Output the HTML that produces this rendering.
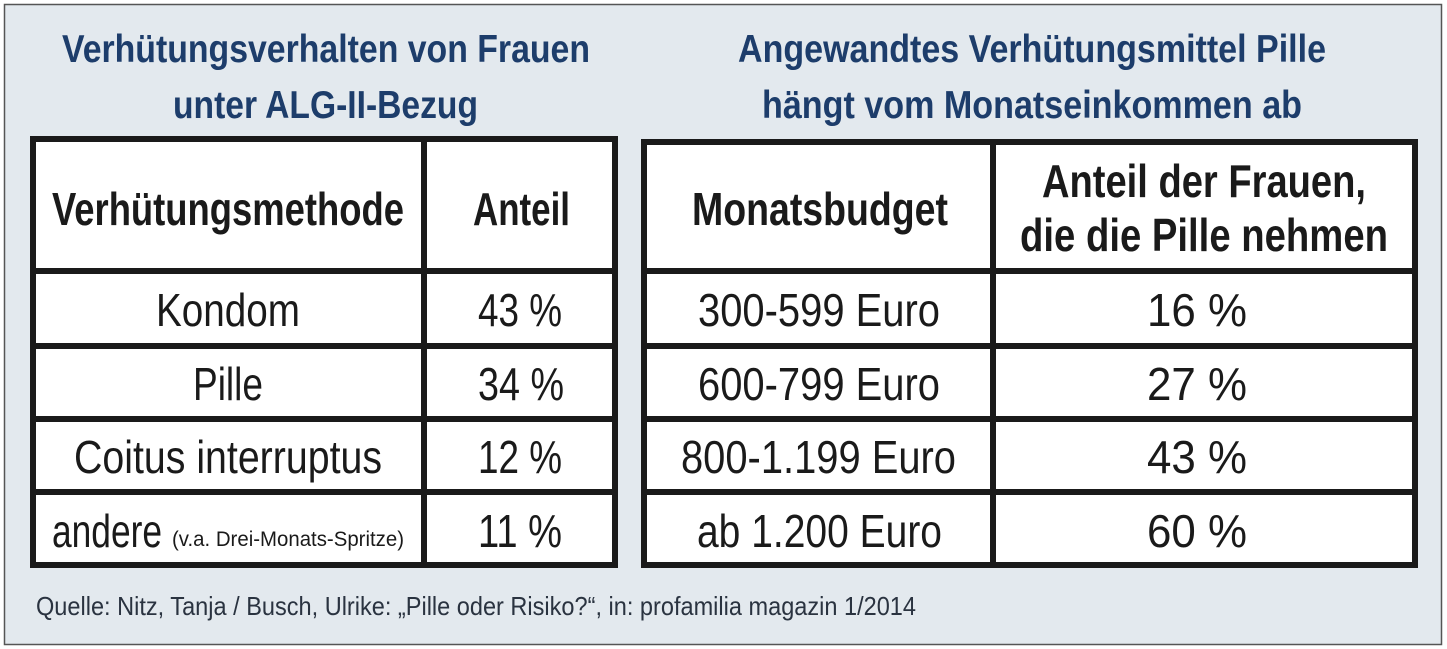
<!DOCTYPE html>
<html><head><meta charset="utf-8"><style>html,body{margin:0;padding:0;background:#fff}svg{display:block}</style></head><body>
<svg width="1447" height="649" viewBox="0 0 1447 649" xmlns="http://www.w3.org/2000/svg" font-family="Liberation Sans, sans-serif">
<rect x="0" y="0" width="1447" height="649" fill="#fff"/>
<rect x="4.5" y="4.5" width="1437" height="640" fill="#e3e9ee" stroke="#555" stroke-width="1.5"/>
<g fill="#1d3d6b" font-weight="bold" font-size="39">
<text x="62" y="62" textLength="528" lengthAdjust="spacingAndGlyphs">Verhütungsverhalten von Frauen</text>
<text x="173" y="118" textLength="305" lengthAdjust="spacingAndGlyphs">unter ALG-II-Bezug</text>
<text x="738" y="62" textLength="588" lengthAdjust="spacingAndGlyphs">Angewandtes Verhütungsmittel Pille</text>
<text x="762" y="118" textLength="540" lengthAdjust="spacingAndGlyphs">hängt vom Monatseinkommen ab</text>
</g>
<g fill="#fff" stroke="#1a1a1a" stroke-width="6">
<rect x="33" y="139" width="582" height="426"/>
<rect x="644" y="142" width="771" height="423"/>
</g>
<g stroke="#1a1a1a" stroke-width="6">
<line x1="424" y1="139" x2="424" y2="565"/>
<line x1="30" y1="271" x2="618" y2="271"/>
<line x1="30" y1="346" x2="618" y2="346"/>
<line x1="30" y1="419" x2="618" y2="419"/>
<line x1="30" y1="492" x2="618" y2="492"/>
<line x1="993" y1="142" x2="993" y2="565"/>
<line x1="641" y1="271" x2="1418" y2="271"/>
<line x1="641" y1="346" x2="1418" y2="346"/>
<line x1="641" y1="419" x2="1418" y2="419"/>
<line x1="641" y1="492" x2="1418" y2="492"/>
</g>
<g fill="#1a1a1a" font-weight="bold" font-size="46">
<text x="52" y="225" textLength="352" lengthAdjust="spacingAndGlyphs">Verhütungsmethode</text>
<text x="473" y="225" textLength="97" lengthAdjust="spacingAndGlyphs">Anteil</text>
<text x="692" y="225" textLength="256" lengthAdjust="spacingAndGlyphs">Monatsbudget</text>
<text x="1042" y="197" textLength="324" lengthAdjust="spacingAndGlyphs">Anteil der Frauen,</text>
<text x="1020" y="251" textLength="368" lengthAdjust="spacingAndGlyphs">die die Pille nehmen</text>
</g>
<g fill="#1a1a1a" font-size="46">
<text x="156" y="326" textLength="144" lengthAdjust="spacingAndGlyphs">Kondom</text>
<text x="478" y="326" textLength="84" lengthAdjust="spacingAndGlyphs">43 %</text>
<text x="193" y="400" textLength="70" lengthAdjust="spacingAndGlyphs">Pille</text>
<text x="478" y="400" textLength="86" lengthAdjust="spacingAndGlyphs">34 %</text>
<text x="74" y="473" textLength="308" lengthAdjust="spacingAndGlyphs">Coitus interruptus</text>
<text x="478" y="473" textLength="84" lengthAdjust="spacingAndGlyphs">12 %</text>
<text x="52" y="547" textLength="110" lengthAdjust="spacingAndGlyphs">andere</text>
<text x="478" y="547" textLength="84" lengthAdjust="spacingAndGlyphs">11 %</text>
<text x="698" y="326" textLength="242" lengthAdjust="spacingAndGlyphs">300-599 Euro</text>
<text x="1147" y="326" textLength="100" lengthAdjust="spacingAndGlyphs">16 %</text>
<text x="698" y="400" textLength="242" lengthAdjust="spacingAndGlyphs">600-799 Euro</text>
<text x="1147" y="400" textLength="100" lengthAdjust="spacingAndGlyphs">27 %</text>
<text x="681" y="473" textLength="275" lengthAdjust="spacingAndGlyphs">800-1.199 Euro</text>
<text x="1147" y="473" textLength="100" lengthAdjust="spacingAndGlyphs">43 %</text>
<text x="697" y="547" textLength="245" lengthAdjust="spacingAndGlyphs">ab 1.200 Euro</text>
<text x="1147" y="547" textLength="100" lengthAdjust="spacingAndGlyphs">60 %</text>
</g>
<text x="172" y="546" font-size="21" fill="#1a1a1a" textLength="232" lengthAdjust="spacingAndGlyphs">(v.a. Drei-Monats-Spritze)</text>
<text x="36" y="615" font-size="26" fill="#2a3340" textLength="880" lengthAdjust="spacingAndGlyphs">Quelle: Nitz, Tanja / Busch, Ulrike: „Pille oder Risiko?“, in: profamilia magazin 1/2014</text>
</svg>
</body></html>
